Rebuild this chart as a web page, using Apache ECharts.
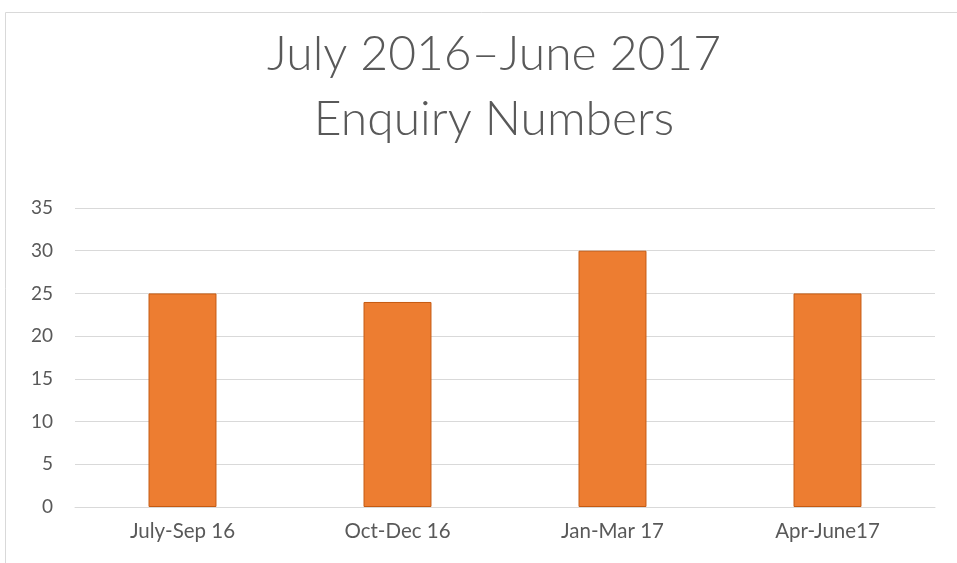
<!DOCTYPE html>
<html><head><meta charset="utf-8">
<script src="https://cdn.jsdelivr.net/npm/echarts@6/dist/echarts.min.js"></script>
<style>html,body{margin:0;padding:0;background:#fff}#c{width:957px;height:563px}</style>
</head><body><div id="c"></div>
<script>
const titleLines = ["July 2016–June 2017", "Enquiry Numbers"];
const categories = ["July-Sep 16", "Oct-Dec 16", "Jan-Mar 17", "Apr-June17"];
const enquiries = [25, 24, 30, 25];
const yTicks = {min: 0, max: 35, interval: 5};

const chart = echarts.init(document.getElementById('c'), null, {renderer: 'canvas'});
chart.setOption({
  animation: false,
  backgroundColor: '#fff',
  graphic: [{
    type: 'rect', shape: {x: 5.5, y: 12.5, width: 1000, height: 600},
    style: {fill: 'none', stroke: '#d9d9d9', lineWidth: 1}, silent: true
  }],
  title: {
    text: titleLines.join('\n'),
    left: 489, top: 17, textAlign: 'center',
    textStyle: {fontFamily: 'Lato', fontWeight: 300, fontSize: 48, color: '#595959', lineHeight: 65}
  },
  grid: {left: 75, right: 22, top: 208, bottom: 56, containLabel: false},
  xAxis: {
    type: 'category', data: categories,
    axisLine: {lineStyle: {color: '#d9d9d9', width: 1}},
    axisTick: {show: false},
    axisLabel: {color: '#595959', fontFamily: 'Lato', fontSize: 20.5, margin: 14}
  },
  yAxis: {
    type: 'value', min: yTicks.min, max: yTicks.max, interval: yTicks.interval,
    axisLine: {show: false}, axisTick: {show: false},
    splitLine: {lineStyle: {color: '#d9d9d9', width: 1}},
    axisLabel: {color: '#595959', fontFamily: 'Lato', fontSize: 19, margin: 22}
  },
  series: [{
    type: 'bar', data: enquiries, barWidth: '31.6%',
    itemStyle: {color: '#ED7D31', borderColor: '#C55A11', borderWidth: 1}
  }]
});
</script></body></html>
